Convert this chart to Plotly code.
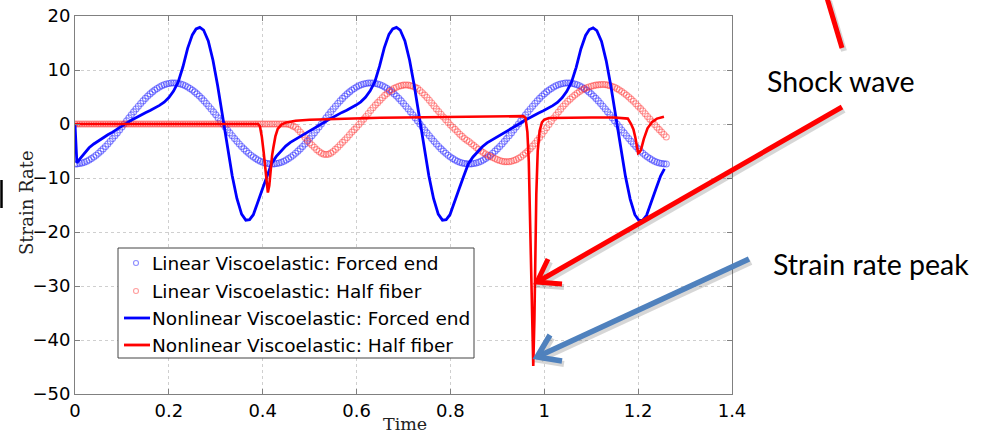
import plotly.graph_objects as go

# ---------------- data ----------------
# sample times of the two linear (circle) series: every 0.005 from 0 to 1.26
T_LIN = [round(i * 0.005, 3) for i in range(253)]

LIN_FORCED = [
    -7.40, -7.38, -7.32, -7.21, -7.07, -6.89, -6.67, -6.41, -6.11, -5.79, -5.42, -5.03, -4.61, -4.17,
    -3.70, -3.21, -2.70, -2.18, -1.65, -1.10, -0.55, 0.00, 0.57, 1.13, 1.69, 2.24, 2.78, 3.30, 3.80,
    4.28, 4.74, 5.17, 5.57, 5.94, 6.28, 6.58, 6.85, 7.07, 7.26, 7.41, 7.51, 7.58, 7.60,
    7.58, 7.51, 7.41, 7.26, 7.07, 6.85, 6.58, 6.28, 5.94, 5.57, 5.17, 4.74, 4.28, 3.80, 3.30, 2.78,
    2.24, 1.69, 1.13, 0.57, 0.00, -0.55, -1.10, -1.65, -2.18, -2.70, -3.21, -3.70, -4.17, -4.61,
    -5.03, -5.42, -5.79, -6.11, -6.41, -6.67, -6.89, -7.07, -7.21, -7.32, -7.38,
    -7.40, -7.38, -7.32, -7.21, -7.07, -6.89, -6.67, -6.41, -6.11, -5.79, -5.42, -5.03, -4.61, -4.17,
    -3.70, -3.21, -2.70, -2.18, -1.65, -1.10, -0.55, 0.00, 0.57, 1.13, 1.69, 2.24, 2.78, 3.30, 3.80,
    4.28, 4.74, 5.17, 5.57, 5.94, 6.28, 6.58, 6.85, 7.07, 7.26, 7.41, 7.51, 7.58, 7.60,
    7.58, 7.51, 7.41, 7.26, 7.07, 6.85, 6.58, 6.28, 5.94, 5.57, 5.17, 4.74, 4.28, 3.80, 3.30, 2.78,
    2.24, 1.69, 1.13, 0.57, 0.00, -0.55, -1.10, -1.65, -2.18, -2.70, -3.21, -3.70, -4.17, -4.61,
    -5.03, -5.42, -5.79, -6.11, -6.41, -6.67, -6.89, -7.07, -7.21, -7.32, -7.38,
    -7.40, -7.38, -7.32, -7.21, -7.07, -6.89, -6.67, -6.41, -6.11, -5.79, -5.42, -5.03, -4.61, -4.17,
    -3.70, -3.21, -2.70, -2.18, -1.65, -1.10, -0.55, 0.00, 0.57, 1.13, 1.69, 2.24, 2.78, 3.30, 3.80,
    4.28, 4.74, 5.17, 5.57, 5.94, 6.28, 6.58, 6.85, 7.07, 7.26, 7.41, 7.51, 7.58, 7.60,
    7.58, 7.51, 7.41, 7.26, 7.07, 6.85, 6.58, 6.28, 5.94, 5.57, 5.17, 4.74, 4.28, 3.80, 3.30, 2.78,
    2.24, 1.69, 1.13, 0.57, 0.00, -0.55, -1.10, -1.65, -2.18, -2.70, -3.21, -3.70, -4.17, -4.61,
    -5.03, -5.42, -5.79, -6.11, -6.41, -6.67, -6.89, -7.07, -7.21, -7.32, -7.38,
    -7.40]

LIN_HALF = [
    0, 0, 0, 0, 0, 0, 0, 0, 0, 0,
    0, 0, 0, 0, 0, 0, 0, 0, 0, 0,
    0, 0, 0, 0, 0, 0, 0, 0, 0, 0,
    0, 0, 0, 0, 0, 0, 0, 0, 0, 0,
    0, 0, 0, 0, 0, 0, 0, 0, 0, 0,
    0, 0, 0, 0, 0, 0, 0, 0, 0, 0,
    0, 0, 0, 0, 0, 0, 0, 0, 0, 0,
    0, 0, 0, 0, 0, 0, 0, 0, 0, 0,
    0, 0, 0, 0, 0, 0, 0, 0, 0, 0,
    0.0, -0.05, -0.2, -0.4, -0.6, -1.0, -1.5, -2.0, -2.5, -3.0,
    -3.5, -3.9, -4.3, -4.75, -5.1, -5.4, -5.6, -5.65, -5.6, -5.4,
    -5.1, -4.7, -4.3, -3.85, -3.4, -2.95, -2.5, -2.0, -1.5, -1.05,
    -0.6, -0.1, 0.4, 0.9, 1.4, 1.95, 2.5, 3.0, 3.5, 3.95,
    4.4, 4.85, 5.3, 5.65, 6.0, 6.3, 6.6, 6.8, 7.0, 7.1,
    7.2, 7.22, 7.2, 7.1, 7.0, 6.8, 6.6, 6.2, 5.8, 5.35,
    4.9, 4.4, 3.9, 3.35, 2.8, 2.3, 1.8, 1.3, 0.8, 0.3,
    -0.2, -0.6, -1.0, -1.45, -1.9, -2.3, -2.7, -3.0, -3.3, -3.65,
    -4.0, -4.35, -4.7, -5.0, -5.3, -5.55, -5.8, -6.0, -6.2, -6.4,
    -6.6, -6.75, -6.9, -6.97, -7.0, -6.97, -6.9, -6.75, -6.6, -6.35,
    -6.1, -5.75, -5.4, -5.0, -4.6, -4.1, -3.6, -3.05, -2.5, -1.9,
    -1.3, -0.7, -0.1, 0.5, 1.1, 1.65, 2.2, 2.75, 3.3, 3.75,
    4.2, 4.6, 5.0, 5.35, 5.7, 6.0, 6.3, 6.5, 6.7, 6.85,
    7.0, 7.1, 7.2, 7.25, 7.3, 7.32, 7.3, 7.2, 7.1, 6.95,
    6.8, 6.55, 6.3, 6.0, 5.7, 5.35, 5.0, 4.6, 4.2, 3.75,
    3.3, 2.85, 2.4, 1.9, 1.4, 0.9, 0.4, -0.1, -0.6, -1.05,
    -1.5, -1.95, -2.4]

NL_FORCED_T = [0, 0.004, 0.01, 0.02, 0.03, 0.04, 0.05, 0.06, 0.07, 0.08,
               0.09, 0.10, 0.11, 0.12, 0.13, 0.14, 0.15, 0.16, 0.17, 0.18,
               0.19, 0.20, 0.21, 0.22, 0.23, 0.24, 0.25, 0.258, 0.266, 0.274,
               0.284, 0.294, 0.304, 0.311, 0.317, 0.325, 0.335, 0.345, 0.355, 0.364,
               0.372, 0.38, 0.39, 0.40, 0.41,
               0.419, 0.429, 0.439, 0.449, 0.459, 0.469, 0.479, 0.489, 0.499, 0.509,
               0.519, 0.529, 0.539, 0.549, 0.559, 0.569, 0.579, 0.589, 0.599, 0.609,
               0.619, 0.629, 0.639, 0.649, 0.659, 0.669, 0.677, 0.685, 0.693, 0.703,
               0.713, 0.723, 0.730, 0.736, 0.744, 0.754, 0.764, 0.774, 0.783, 0.791,
               0.799, 0.809, 0.819, 0.829,
               0.838, 0.848, 0.858, 0.868, 0.878, 0.888, 0.898, 0.908, 0.918, 0.928,
               0.938, 0.948, 0.958, 0.968, 0.978, 0.988, 0.998, 1.008, 1.018, 1.028,
               1.038, 1.048, 1.058, 1.068, 1.078, 1.088, 1.096, 1.104, 1.112, 1.122,
               1.132, 1.142, 1.149, 1.155, 1.163, 1.173, 1.183, 1.193, 1.202, 1.210,
               1.218, 1.228, 1.238, 1.248, 1.256]

NL_FORCED_Y = [0, -7.2, -6.5, -5.4, -4.4, -3.7, -3.1, -2.6, -2.0, -1.5,
               -1.0, -0.45, 0.15, 0.7, 1.2, 1.65, 2.1, 2.5, 2.95, 3.45,
               4.05, 4.9, 6.1, 7.8, 10.6, 14.0, 16.5, 17.6, 17.9, 17.4,
               15.4, 11.8, 7.1, 3.3, 0.0, -4.2, -9.6, -13.8, -16.7, -17.8,
               -17.7, -16.8, -14.5, -11.9, -9.5,
               -7.3, -6.0, -5.0, -4.1, -3.4, -2.9, -2.4, -1.9, -1.4, -0.95,
               -0.4, 0.2, 0.75, 1.25, 1.7, 2.15, 2.55, 3.0, 3.5, 4.1,
               4.95, 6.15, 7.85, 10.7, 14.1, 16.6, 17.6, 17.9, 17.4, 15.4,
               11.8, 7.1, 3.3, 0.0, -4.2, -9.6, -13.8, -16.7, -17.8, -17.7,
               -16.8, -14.5, -11.9, -9.5,
               -7.4, -6.1, -5.1, -4.2, -3.5, -3.0, -2.5, -2.0, -1.5, -1.05,
               -0.5, 0.1, 0.65, 1.15, 1.6, 2.05, 2.45, 2.9, 3.4, 4.0,
               4.85, 6.05, 7.75, 10.5, 13.9, 16.4, 17.5, 17.8, 17.3, 15.3,
               11.7, 7.0, 3.2, -0.1, -4.3, -9.7, -13.9, -16.8, -17.9, -17.8,
               -16.9, -14.6, -12.0, -9.6, -8.3]

NL_HALF_T = [0, 0.390, 0.394, 0.398, 0.402, 0.405, 0.408, 0.411, 0.414, 0.417,
             0.420, 0.423, 0.427, 0.432, 0.44, 0.45, 0.47, 0.50, 0.55, 0.60,
             0.65, 0.70, 0.75, 0.80, 0.85, 0.90, 0.94, 0.955, 0.960, 0.964,
             0.967, 0.970, 0.973, 0.9765, 0.979, 0.981, 0.983, 0.986, 0.990, 0.995,
             1.000, 1.010, 1.05, 1.10, 1.15, 1.170, 1.178, 1.185, 1.190, 1.194,
             1.197, 1.200, 1.203, 1.206, 1.212, 1.220, 1.230, 1.240, 1.255]

NL_HALF_Y = [0, 0, -0.4, -2.3, -5.2, -7.9, -11.0, -12.7, -11.4, -7.9,
             -5.8, -4.2, -2.3, -0.9, -0.1, 0.3, 0.6, 0.8, 0.95, 1.05,
             1.15, 1.2, 1.25, 1.3, 1.35, 1.4, 1.45, 1.45, 1.1, -1.5,
             -7, -18, -33, -44.8, -36, -24, -13, -5, -1.3, 0.3,
             0.8, 1.1, 1.2, 1.2, 1.2, 1.15, 1.0, 0.0, -1.0, -2.5,
             -4.0, -5.4, -5.2, -4.8, -2.8, -0.8, 0.4, 1.0, 1.35]

assert len(LIN_FORCED) == len(T_LIN) == len(LIN_HALF)
assert len(NL_FORCED_T) == len(NL_FORCED_Y)
assert len(NL_HALF_T) == len(NL_HALF_Y)

NAMES = ["Linear Viscoelastic: Forced end",
         "Linear Viscoelastic: Half fiber",
         "Nonlinear Viscoelastic: Forced end",
         "Nonlinear Viscoelastic: Half fiber"]

X_TICKS = [0, 0.2, 0.4, 0.6, 0.8, 1, 1.2, 1.4]
Y_TICKS = [-50, -40, -30, -20, -10, 0, 10, 20]

# ---------------- styling ----------------
BLUE_CIRC = "rgba(30,30,255,0.5)"
RED_CIRC = "rgba(255,40,40,0.45)"
BLUE_LINE = "#0000ff"
RED_LINE = "#ff0000"

W, H = 984, 435
L, R, T, B = 75, 732, 16, 394   # plot area edges in px


def px(x, y):
    return (x - L) / (R - L), (B - y) / (B - T)


fig = go.Figure()
fig.add_trace(go.Scatter(
    x=T_LIN, y=LIN_FORCED, mode="markers", name=NAMES[0], showlegend=False,
    marker=dict(symbol="circle-open", size=6, color=BLUE_CIRC, line=dict(width=1.1))))
fig.add_trace(go.Scatter(
    x=T_LIN, y=LIN_HALF, mode="markers", name=NAMES[1], showlegend=False,
    marker=dict(symbol="circle-open", size=6, color=RED_CIRC, line=dict(width=1.1))))
fig.add_trace(go.Scatter(
    x=NL_FORCED_T, y=NL_FORCED_Y, mode="lines", name=NAMES[2], showlegend=False,
    line=dict(color=BLUE_LINE, width=2.8)))
fig.add_trace(go.Scatter(
    x=NL_HALF_T, y=NL_HALF_Y, mode="lines", name=NAMES[3], showlegend=False,
    line=dict(color=RED_LINE, width=2.6)))

axis_common = dict(
    showgrid=True, gridcolor="#cfcfcf", griddash="dot", gridwidth=1,
    showline=True, linecolor="#808080", linewidth=1, mirror="ticks",
    ticks="inside", ticklen=5, tickcolor="#808080", zeroline=False,
    automargin=False,
    tickfont=dict(family="DejaVu Sans", size=18, color="black"),
)
fig.update_xaxes(range=[0, 1.4], tickvals=X_TICKS,
                 ticktext=[f"{v:g}" for v in X_TICKS], **axis_common)
fig.update_yaxes(range=[-50, 20], tickvals=Y_TICKS,
                 ticktext=[f"{v:g}".replace("-", "\u2212") for v in Y_TICKS],
                 **axis_common)

annotations = []
shapes = []


def ann(x, y, text, font, xanchor="left", angle=0):
    u, v = px(x, y)
    annotations.append(dict(x=u, y=v, xref="paper", yref="paper", text=text,
                            showarrow=False, xanchor=xanchor, yanchor="middle",
                            textangle=angle, font=font))


def path_shape(points, color, width):
    d = ""
    for i, (x, y) in enumerate(points):
        u, v = px(x, y)
        d += ("M" if i == 0 else "L") + f"{u:.5f},{v:.5f} "
    return dict(type="path", path=d.strip(), xref="paper", yref="paper",
                line=dict(color=color, width=width))


ann(405, 423.5, "Time", dict(family="DejaVu Serif", size=17.5, color="#222"),
    xanchor="center")
ann(27, 203, "Strain Rate", dict(family="DejaVu Serif", size=18, color="#222"),
    xanchor="center", angle=-90)
CALLOUT = dict(family="Lato", size=28.5, color="black")
ann(765, 81, "Shock wave", CALLOUT)
ann(771, 264, "Strain rate peak", CALLOUT)

# ---- legend (drawn box, markers and text) ----
u0, v0 = px(118, 358)
u1, v1 = px(474, 248)
shapes.append(dict(type="rect", xref="paper", yref="paper", x0=u0, x1=u1, y0=v0, y1=v1,
                   fillcolor="white", line=dict(color="#444", width=1)))
ROWS = [263, 291, 318, 345]
for i, yy in enumerate(ROWS[:2]):
    c = [BLUE_CIRC, RED_CIRC][i]
    a0, b0 = px(133.5, yy + 2.5)
    a1, b1 = px(138.5, yy - 2.5)
    shapes.append(dict(type="circle", xref="paper", yref="paper", x0=a0, x1=a1,
                       y0=b0, y1=b1, line=dict(color=c, width=1.1)))
for i, yy in enumerate(ROWS[2:]):
    c = [BLUE_LINE, RED_LINE][i]
    shapes.append(path_shape([(124, yy), (150, yy)], c, 2.8))
LEG_FONT = dict(family="DejaVu Sans", size=18.5, color="black")
for name, yy in zip(NAMES, ROWS):
    ann(150, yy, name, LEG_FONT)

# ---- callout lines / arrows ----
SHADOW = "rgba(0,0,0,0.16)"
shapes.append(path_shape([(829, 1), (844, 51)], SHADOW, 6))
shapes.append(path_shape([(827, -2), (842, 48)], RED_LINE, 5))
shapes.append(path_shape([(844, 110), (541, 284)], SHADOW, 6))
shapes.append(path_shape([(550, 262), (539, 285), (564, 287)], SHADOW, 6))
shapes.append(path_shape([(842, 107), (539, 281)], RED_LINE, 5))
shapes.append(path_shape([(548, 259), (537, 282), (562, 284)], RED_LINE, 5))
shapes.append(path_shape([(751, 262), (541, 359)], SHADOW, 6))
shapes.append(path_shape([(552, 338), (539, 360), (564, 364)], SHADOW, 6))
shapes.append(path_shape([(749, 259), (539, 356)], "#4f81bd", 5.5))
shapes.append(path_shape([(550, 335), (537, 357), (562, 361)], "#4f81bd", 5.5))
# small black bar at the left edge of the slide
shapes.append(path_shape([(1.5, 180), (1.5, 208)], "black", 2.5))

fig.update_layout(
    width=W, height=H,
    margin=dict(l=L, r=W - R, t=T, b=H - B, pad=0, autoexpand=False),
    paper_bgcolor="white", plot_bgcolor="white",
    showlegend=False,
    annotations=annotations,
    shapes=shapes,
)

fig.write_html("out.html",
               config={"displayModeBar": False},
               post_script="document.body.style.margin='0px';"
                           "document.body.style.overflow='hidden';")
